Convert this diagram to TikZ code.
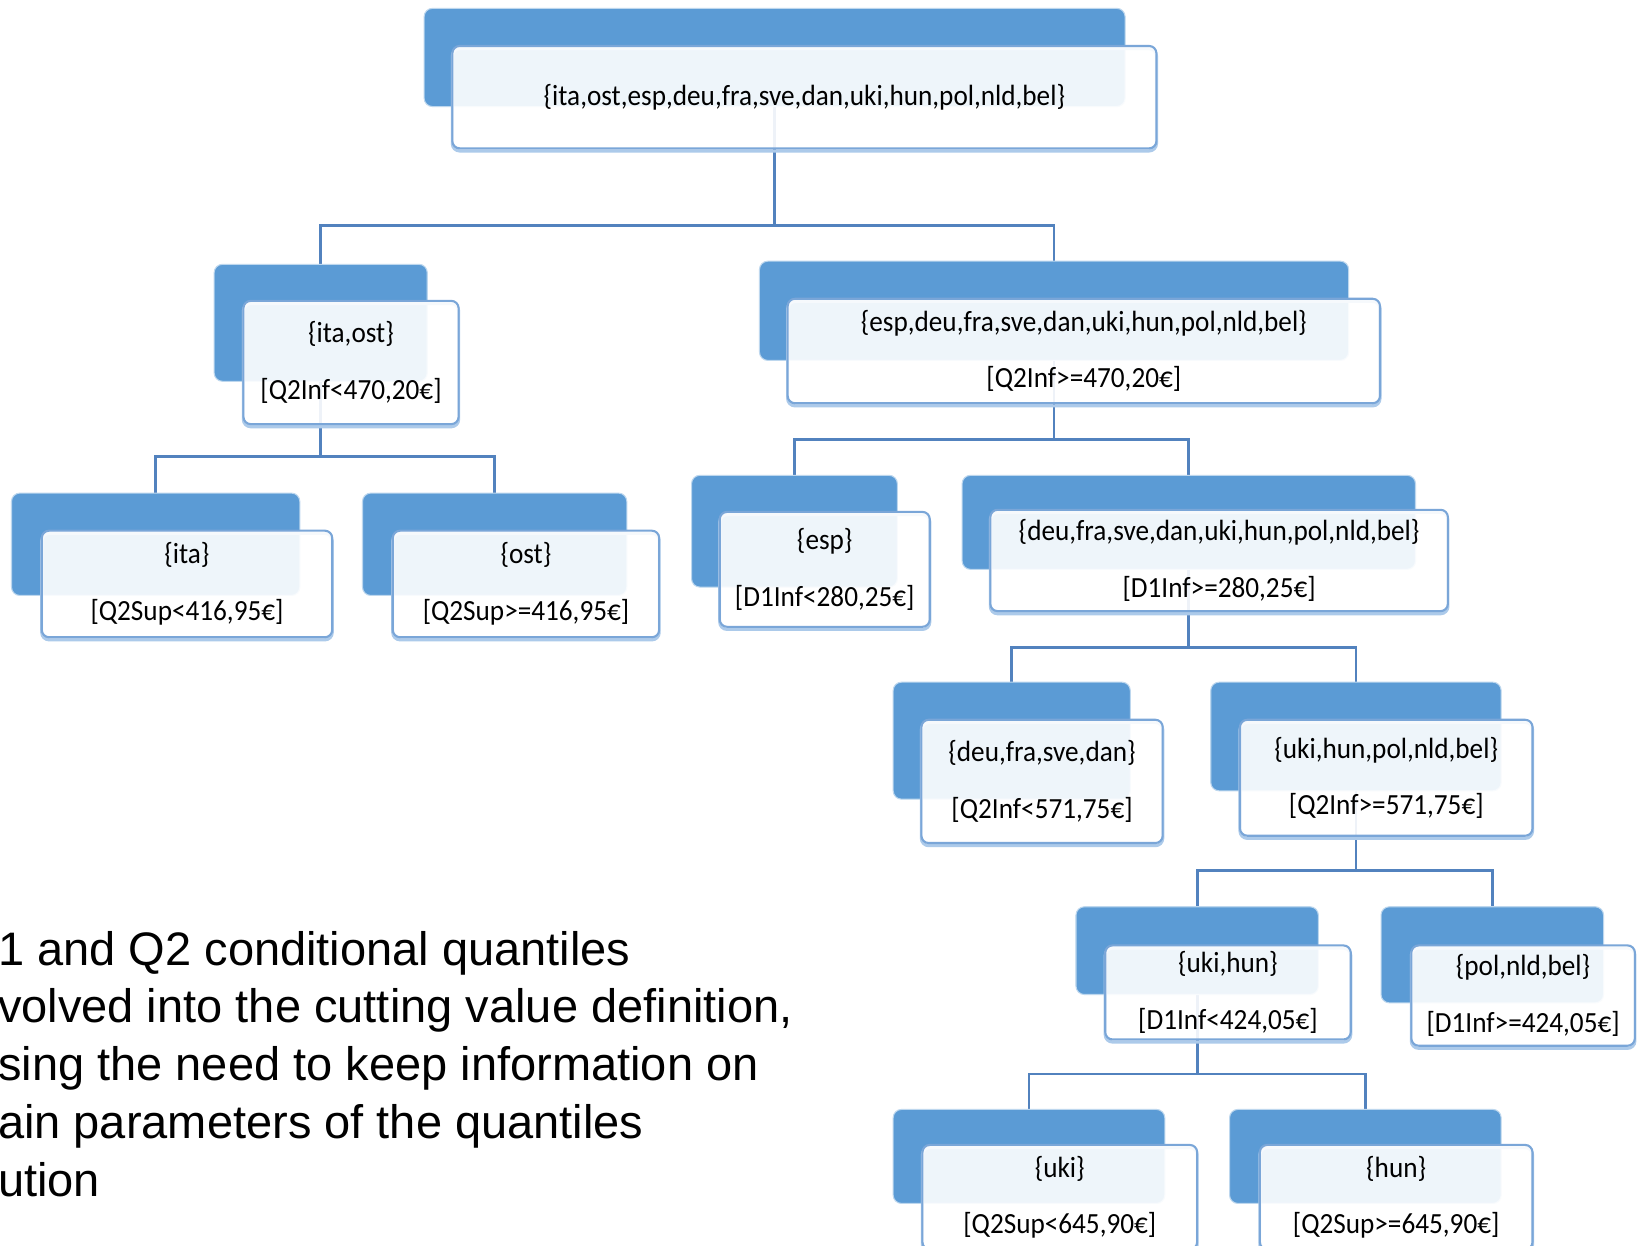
\documentclass[tikz,border=0pt]{standalone}
\usepackage{fontspec}
\newfontfamily\boxfont[FakeStretch=0.93]{Carlito}
\newfontfamily\notefont{Liberation Sans}
\definecolor{backblue}{RGB}{91,155,213}
\definecolor{frontline}{RGB}{122,166,216}
\definecolor{shadowblue}{RGB}{172,202,234}
\definecolor{connline}{RGB}{82,130,190}
\pgfdeclarelayer{background}
\pgfdeclarelayer{paper}
\pgfsetlayers{paper,background,main}
\begin{document}
\begin{tikzpicture}[x=1pt,y=-1pt,
  back/.style={rectangle, rounded corners=8pt, fill=backblue, draw=backblue!40, line width=1pt, inner sep=0pt},
  front/.style={rectangle, rounded corners=7pt, fill=white, fill opacity=0.9, text opacity=1,
    draw=frontline, line width=2pt, inner sep=0pt, align=center,
    preaction={draw=shadowblue, line width=3pt, transform canvas={yshift=-2.5pt}},
    font=\boxfont\fontsize{28}{54}\selectfont},
  conn/.style={draw=connline, line width=2.6pt},
  note/.style={align=left, inner sep=0pt, anchor=north west,
    font=\notefont\fontsize{45}{55.3}\selectfont}]
\clip (0,0) rectangle (1568,1192);
\begin{pgfonlayer}{paper}
\fill[white] (0,0) rectangle (1568,1192);
\end{pgfonlayer}

% root
\node[back, minimum width=671, minimum height=94] (rootb) at (741.5,55) {};
\node[front, minimum width=674, minimum height=98] (root) at (770,93) {\{ita,ost,esp,deu,fra,sve,dan,uki,hun,pol,nld,bel\}};
% ita,ost
\node[back, minimum width=204, minimum height=112] (iob) at (307,309) {};
\node[front, minimum width=206, minimum height=118] (io) at (336,347) {\{ita,ost\}\\{}[Q2Inf<470,20€]};
% esp..bel
\node[back, minimum width=564, minimum height=95] (erb) at (1009,297.5) {};
\node[front, minimum width=567, minimum height=100] (er) at (1037.5,336) {\{esp,deu,fra,sve,dan,uki,hun,pol,nld,bel\}\\{}[Q2Inf>=470,20€]};
% ita
\node[back, minimum width=276, minimum height=98] (itab) at (149,521) {};
\node[front, minimum width=278, minimum height=102] (ita) at (179,559) {\{ita\}\\{}[Q2Sup<416,95€]};
% ost
\node[back, minimum width=253, minimum height=98] (ostb) at (473.5,521) {};
\node[front, minimum width=255, minimum height=102] (ost) at (503.5,559) {\{ost\}\\{}[Q2Sup>=416,95€]};
% esp
\node[back, minimum width=197, minimum height=107] (espb) at (760.5,508.5) {};
\node[front, minimum width=201, minimum height=110] (esp) at (789.5,545) {\{esp\}\\{}[D1Inf<280,25€]};
% deu..bel
\node[back, minimum width=434, minimum height=90] (dbb) at (1138,500) {};
\node[front, minimum width=438, minimum height=97] (db) at (1167,536.5) {\{deu,fra,sve,dan,uki,hun,pol,nld,bel\}\\{}[D1Inf>=280,25€]};
% deu,fra,sve,dan
\node[back, minimum width=227, minimum height=112] (dfb) at (968.5,709) {};
\node[front, minimum width=231, minimum height=118] (df) at (997.5,748) {\{deu,fra,sve,dan\}\\{}[Q2Inf<571,75€]};
% uki..bel
\node[back, minimum width=278, minimum height=104] (ubb) at (1298,705) {};
\node[front, minimum width=280, minimum height=111] (ub) at (1327,744.5) {\{uki,hun,pol,nld,bel\}\\{}[Q2Inf>=571,75€]};
% uki,hun
\node[back, minimum width=232, minimum height=84] (uhb) at (1146,910) {};
\node[front, minimum width=235, minimum height=90] (uh) at (1175.5,950) {\{uki,hun\}\\{}[D1Inf<424,05€]};
% pol,nld,bel
\node[back, minimum width=213, minimum height=92] (pnb) at (1428.5,914) {};
\node[front, minimum width=214, minimum height=96] (pn) at (1458,953) {\{pol,nld,bel\}\\{}[D1Inf>=424,05€]};
% uki
\node[back, minimum width=260, minimum height=90] (ukib) at (985,1107) {};
\node[front, minimum width=263, minimum height=100] (uki) at (1014.5,1146) {\{uki\}\\{}[Q2Sup<645,90€]};
% hun
\node[back, minimum width=260, minimum height=90] (hunb) at (1307,1107) {};
\node[front, minimum width=261, minimum height=100] (hun) at (1336.5,1146) {\{hun\}\\{}[Q2Sup>=645,90€]};

% bus levels
\coordinate (bus1) at (0,216);
\coordinate (bus2) at (0,437);
\coordinate (bus3) at (0,421);
\coordinate (bus4) at (0,620);
\coordinate (bus5) at (0,833);
\coordinate (bus6) at (0,1028);

\begin{pgfonlayer}{background}
\draw[conn] (rootb.center) -- (rootb.center |- bus1) -| (iob.north);
\draw[conn] (rootb.center |- bus1) -| (erb.north);
\draw[conn] (iob.center) -- (iob.center |- bus2) -| (itab.north);
\draw[conn] (iob.center |- bus2) -| (ostb.north);
\draw[conn] (erb.center) -- (erb.center |- bus3) -| (espb.north);
\draw[conn] (erb.center |- bus3) -| (dbb.north);
\draw[conn] (dbb.center) -- (dbb.center |- bus4) -| (dfb.north);
\draw[conn] (dbb.center |- bus4) -| (ubb.north);
\draw[conn] (ubb.center) -- (ubb.center |- bus5) -| (uhb.north);
\draw[conn] (ubb.center |- bus5) -| (pnb.north);
\draw[conn] (uhb.center) -- (uhb.center |- bus6) -| (ukib.north);
\draw[conn] (uhb.center |- bus6) -| (hunb.north);
\end{pgfonlayer}

% note text
\node[note] (note) at (-2,891) {1 and Q2 conditional quantiles\\volved into the cutting value definition,\\sing the need to keep information on\\ain parameters of the quantiles\\ution};
\end{tikzpicture}
\end{document}
